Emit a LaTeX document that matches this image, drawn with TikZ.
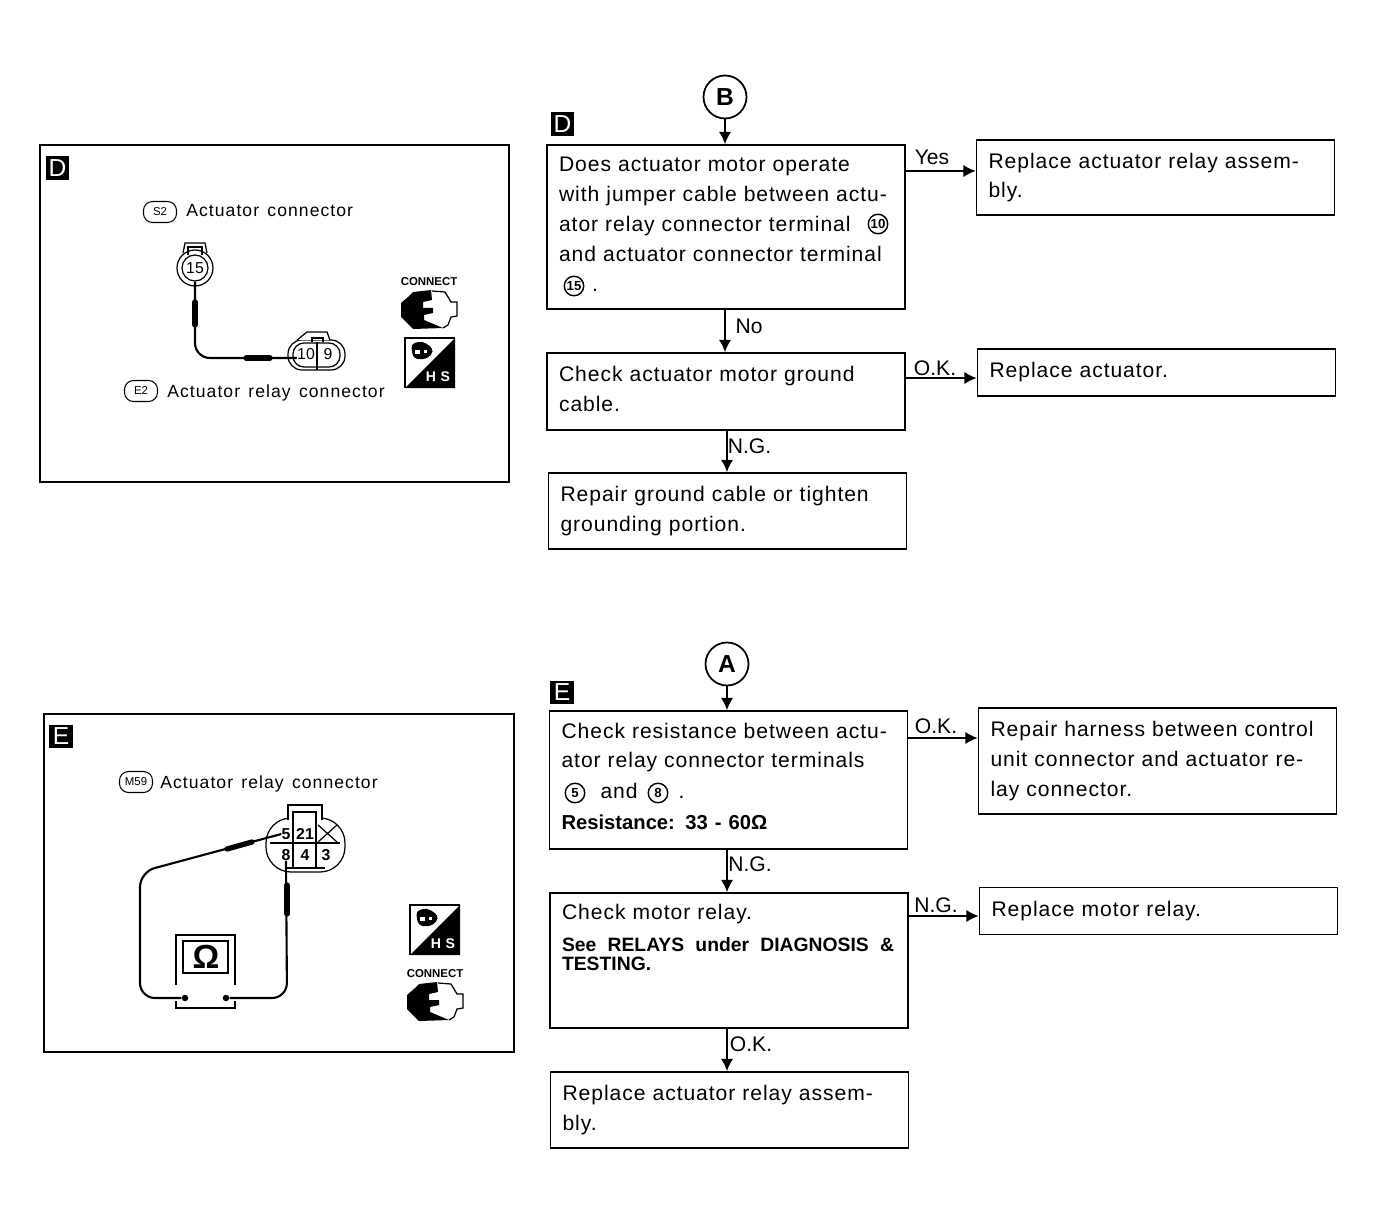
\documentclass[tikz,border=0pt]{standalone}
\usepackage{fontspec}
\usetikzlibrary{arrows.meta}
\setmainfont{Liberation Sans}
\newfontfamily\boxfont[LetterSpace=4.5,WordSpace=1.3]{Liberation Sans}
\newfontfamily\panelfont[LetterSpace=6,WordSpace=1.4]{Liberation Sans}
\newfontfamily\plainfont{Liberation Sans}
\newcommand{\liftbox}[1]{\rule[-#1]{0pt}{#1}}

\tikzset{
  flowbox/.style={draw, line width=1pt, minimum width=7.16cm, text width=6.68cm, inner xsep=0.24cm, inner ysep=0pt, align=left, font=\boxfont\fontsize{12}{17}\selectfont},
  flowarrow/.style={line width=1pt, -{Latex[length=7pt,width=7pt]}},
  flowlabel/.style={inner sep=0pt, font=\fontsize{12}{14}\selectfont},
  tagbox/.style={fill=black, text=white, minimum size=0.47cm, inner sep=0pt, font=\fontsize{14}{14}\selectfont},
  lettercircle/.style={draw, circle, line width=1pt, minimum size=0.86cm, inner sep=0pt, font=\bfseries\fontsize{14}{14}\selectfont},
  termcircle/.style={draw, circle, line width=0.8pt, minimum size=0.39cm, inner sep=0pt, font=\bfseries\fontsize{7.5}{8}\selectfont},
  panelbox/.style={draw, line width=1pt},
  pillbox/.style={draw, rounded corners=0.18cm, line width=0.6pt, minimum width=0.66cm, minimum height=0.42cm, inner sep=0pt, font=\fontsize{6.5}{7}\selectfont},
  paneltext/.style={anchor=west, inner sep=0pt, font=\panelfont\fontsize{10}{12}\selectfont},
  pinnum/.style={inner sep=0pt, font=\fontsize{9}{10}\selectfont},
  pinbold/.style={inner sep=0pt, font=\bfseries\fontsize{9}{10}\selectfont},
  thinline/.style={line width=0.7pt},
  leadwire/.style={line width=1.2pt, rounded corners=0.3cm},
  probe/.style={line width=3pt, line cap=round},
  connecticon/.pic={
    \node[inner sep=0pt, font=\bfseries\fontsize{6.5}{7}\selectfont] (label) at (28,-28) {CONNECT};
    \fill (0,-7) -- (7,-13) -- (12,-18) -- (30,-20) -- (31,-10) -- (22,-8) -- (22,-2) -- (32,-2) -- (32,3) -- (23,5) -- (23,10) -- (42,18) -- (12,19) -- (5,12) -- (0,7) -- cycle;
    \draw[thinline] (31,-19) -- (44,-18) -- (50,-8) -- (56,-8) -- (56,6) -- (50,7) -- (47,15) -- (42,18);
  },
  hsicon/.pic={
    \draw[thinline] (0,50) -- (0,0) -- (50,0);
    \fill (50,0) -- (50,50) -- (0,50) -- cycle;
    \fill[rounded corners=0.08cm] (6,6) -- (17,3) -- (28,10) -- (27,17) -- (18,22) -- (8,20) -- cycle;
    \fill[white] (10,12) rectangle (15,16);
    \fill[white] (19,12) rectangle (22,15);
    \node[text=white, inner sep=0pt, font=\bfseries\fontsize{8}{9}\selectfont] (label) at (33,39) {H\,\,S};
  }
}

\begin{document}
\begin{tikzpicture}[x=0.02cm,y=-0.02cm]
\useasboundingbox (0,0) rectangle (1375,1226);

\node[panelbox, minimum width=9.38cm, minimum height=6.74cm] (paneld) at (274.5,313.5) {};
\node[tagbox] (tagpd) at (57.5,168) {D};
\node[pillbox] (s2) at (160,212) {S2};
\node[paneltext] (s2text) at (186,211) {Actuator connector};
\node[pillbox] (e2) at (141,391) {E2};
\node[paneltext] (e2text) at (167,392.5) {Actuator relay connector};

\draw[thinline] (195,268) circle [radius=18];
\draw[thinline] (183,253) -- (185,243) -- (205,243) -- (207,253);
\draw[thinline] (188,255) -- (188,247) -- (202,247) -- (202,255);
\node[draw, circle, thinline, minimum size=0.52cm, inner sep=0pt, fill=white, font=\fontsize{9}{10}\selectfont] (pa15) at (195,268) {15};

\draw[thinline, rounded corners=0.28cm] (288,340) rectangle (345,370);
\draw[thinline, rounded corners=0.22cm] (293,343) rectangle (340,367);
\draw[thinline, fill=white] (297,340) -- (307,332) -- (327,332) -- (330,340);
\draw[thinline] (312,342) -- (312,338) -- (323,338) -- (323,342);
\draw[thinline] (317,342) -- (317,370);
\node[pinnum] (pa10) at (306,354) {10};
\node[pinnum] (pa9) at (328,354) {9};

\coordinate (bendd) at (195,358);
\draw[leadwire] (pa15.south) -- (bendd) -- (bendd -| pa10.west);
\draw[probe] (195,302) -- (195,325);
\draw[probe] (246,358) -- (270,358);

\pic (cond) at (401,310) {connecticon};
\pic (hsd) at (405,338) {hsicon};

\node[panelbox, minimum width=9.4cm, minimum height=6.76cm] (panele) at (279,883) {};
\node[tagbox] (tagpe) at (61,736.5) {E};
\node[pillbox] (m59) at (136,782) {M59};
\node[paneltext] (m59text) at (160,783.5) {Actuator relay connector};

\draw[thinline, rounded corners=0.5cm] (266,818) rectangle (345,872);
\draw[thinline, fill=white] (288,820) -- (288,805) -- (322,805) -- (322,820);
\draw[thinline] (293,820) -- (293,812) -- (316,812) -- (316,820);
\draw[line width=1pt] (270,843) -- (340,843);
\draw[line width=1pt] (293,820) -- (293,868);
\draw[line width=1pt] (316,820) -- (316,868);
\draw[line width=1pt] (285,868) -- (325,868);
\draw[thinline] (318,825) -- (337,842);
\draw[thinline] (337,825) -- (318,842);
\node[pinbold] (pe5) at (286,834) {5};
\node[pinbold] (pe21) at (305,834) {21};
\node[pinbold] (pe8) at (286,855) {8};
\node[pinbold] (pe4) at (305,855) {4};
\node[pinbold] (pe3) at (326,855) {3};

\draw[thinline] (176,985) -- (176,935) -- (235,935) -- (235,985);
\draw[thinline] (176,1001) -- (176,1008) -- (235,1008) -- (235,1001);
\draw[line width=1pt] (183,941) rectangle (228,973);
\node[inner sep=0pt, font=\bfseries\fontsize{19}{20}\selectfont] (ohm) at (206,957) {Ω};
\node[fill, circle, minimum size=0.13cm, inner sep=0pt] (tipl) at (185,998) {};
\node[fill, circle, minimum size=0.13cm, inner sep=0pt] (tipr) at (226,998) {};

\draw[leadwire] (pe5.west) -- (140,872) -- (140,998) -- (tipl);
\draw[leadwire] (pe8.south) -- (287,998) -- (tipr);
\draw[probe] (227,849) -- (252,842);
\draw[probe] (287,885) -- (287,914);

\pic (hse) at (410,905) {hsicon};
\pic (cone) at (407,1002) {connecticon};

\node[lettercircle] (B) at (725,97) {B};
\node[tagbox] (tagfd) at (562.5,124) {D};
\node[flowbox, minimum height=3.28cm] (q1) at (726,227) {Does actuator motor operate\\with jumper cable between actu-\\ator relay connector terminal\\and actuator connector terminal\\\hspace*{0.66cm}.\liftbox{3.4pt}};
\node[flowbox, minimum height=1.5cm] (r1) at (1155.5,177.5) {Replace actuator relay assem-\\bly.};
\node[flowbox, minimum height=1.54cm] (q2) at (726,391.5) {Check actuator motor ground\\cable.\liftbox{3.4pt}};
\node[flowbox, minimum height=0.94cm] (r2) at (1156.5,372.5) {Replace actuator.};
\node[flowbox, minimum height=1.52cm] (q3) at (727.5,511) {Repair ground cable or tighten\\grounding portion.};
\node[termcircle] (t10) at (878,224) {10};
\node[termcircle] (t15) at (574,286) {15};

\coordinate (yes) at (0,171);
\coordinate (okd) at (0,378);
\coordinate (axd) at (725,0);
\coordinate (axng) at (727,0);
\draw[flowarrow] (B) -- (B |- q1.north);
\draw[flowarrow] (q1.east |- yes) -- (r1.west |- yes);
\draw[flowarrow] (axd |- q1.south) -- (axd |- q2.north);
\draw[flowarrow] (q2.east |- okd) -- (r2.west |- okd);
\draw[flowarrow] (axng |- q2.south) -- (axng |- q3.north);
\node[flowlabel] (yeslabel) at (932,157) {Yes};
\node[flowlabel] (nolabel) at (749,326) {No};
\node[flowlabel] (oklabel) at (935,368) {O.K.};
\node[flowlabel] (nglabel) at (749.5,446) {N.G.};

\node[lettercircle] (A) at (727,664) {A};
\node[tagbox] (tagfe) at (562,692.5) {E};
\node[flowbox, minimum height=2.76cm] (q4) at (728.5,780) {Check resistance between actu-\\ator relay connector terminals\\[0.5pt]\hspace*{0.78cm}and\hspace*{0.82cm}.\\[0.5pt]{\plainfont\bfseries\fontsize{11.5}{17}\selectfont Resistance: 33 - 60Ω}\liftbox{4.5pt}};
\node[flowbox, minimum height=2.12cm] (r4) at (1157.5,761) {Repair harness between control\\unit connector and actuator re-\\lay connector.};
\node[flowbox, minimum height=2.7cm] (q5) at (729,960.5) {Check motor relay.\\[1pt]\parbox[t]{6.68cm}{\plainfont\bfseries\fontsize{11}{11.3}\selectfont\hbox to 6.64cm{See\hfill RELAYS\hfill under\hfill DIAGNOSIS\hfill\&}\hbox{TESTING.}}\\[8pt]\strut};
\node[flowbox, minimum height=0.94cm] (r5) at (1158.5,911) {Replace motor relay.};
\node[flowbox, minimum height=1.52cm] (q6) at (729.5,1110) {Replace actuator relay assem-\\bly.};
\node[termcircle] (t5) at (575,793) {5};
\node[termcircle] (t8) at (658,793) {8};

\coordinate (oke) at (0,738);
\coordinate (nge) at (0,916);
\draw[flowarrow] (A) -- (A |- q4.north);
\draw[flowarrow] (q4.east |- oke) -- (r4.west |- oke);
\draw[flowarrow] (A |- q4.south) -- (A |- q5.north);
\draw[flowarrow] (q5.east |- nge) -- (r5.west |- nge);
\draw[flowarrow] (A |- q5.south) -- (A |- q6.north);
\node[flowlabel] (oklabele) at (936,726) {O.K.};
\node[flowlabel] (nglabele) at (750,864) {N.G.};
\node[flowlabel] (nglabelr) at (936,905) {N.G.};
\node[flowlabel] (oklabelb) at (751,1044) {O.K.};
\end{tikzpicture}
\end{document}
